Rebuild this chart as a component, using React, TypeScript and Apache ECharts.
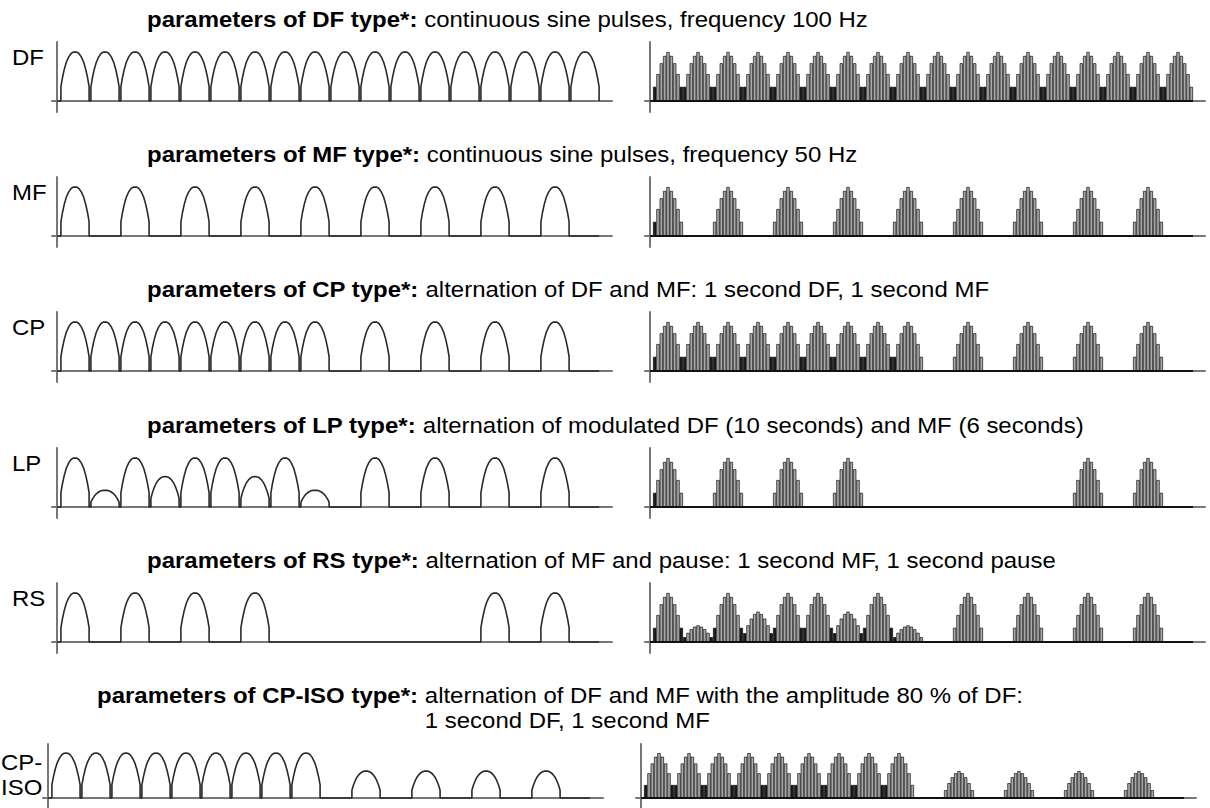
import React, { useEffect, useRef } from 'react';
import * as echarts from 'echarts';

// ---------- data ----------
const ROW_LABELS = ['DF', 'MF', 'CP', 'LP', 'RS', 'CP-\nISO'];
const TITLE_BOLD = [
  'parameters of DF type*:',
  'parameters of MF type*:',
  'parameters of CP type*:',
  'parameters of LP type*:',
  'parameters of RS type*:',
  'parameters of CP-ISO type*:',
];
const TITLE_TEXT = [
  'continuous sine pulses, frequency 100 Hz',
  'continuous sine pulses, frequency 50 Hz',
  'alternation of DF and MF: 1 second DF, 1 second MF',
  'alternation of modulated DF (10 seconds) and MF (6 seconds)',
  'alternation of MF and pause: 1 second MF, 1 second pause',
  'alternation of DF and MF with the amplitude 80 % of DF:',
];
const TITLE_TEXT_2 = ['', '', '', '', '', '1 second DF, 1 second MF'];

// amplitude of each half-wave slot (18 slots per panel), 0 = no pulse
const DF_PULSES = [1, 1, 1, 1, 1, 1, 1, 1, 1, 1, 1, 1, 1, 1, 1, 1, 1, 1];
const MF_PULSES = [1, 0, 1, 0, 1, 0, 1, 0, 1, 0, 1, 0, 1, 0, 1, 0, 1, 0];
const CP_PULSES = [1, 1, 1, 1, 1, 1, 1, 1, 1, 0, 1, 0, 1, 0, 1, 0, 1, 0];
const LP_PULSES = [1, 0.34, 1, 0.62, 1, 1, 0.62, 1, 0.34, 0, 1, 0, 1, 0, 1, 0, 1, 0];
const RS_PULSES = [1, 0, 1, 0, 1, 0, 1, 0, 0, 0, 0, 0, 0, 0, 1, 0, 1, 0];
const CPISO_PULSES = [1, 1, 1, 1, 1, 1, 1, 1, 1, 0, 0.6, 0, 0.6, 0, 0.6, 0, 0.6, 0];

const LEFT_PULSES = [DF_PULSES, MF_PULSES, CP_PULSES, LP_PULSES, RS_PULSES, CPISO_PULSES];
const RIGHT_PULSES = [DF_PULSES, MF_PULSES, CP_PULSES, RS_PULSES, LP_PULSES, CPISO_PULSES];

// one pulse outline (position within slot, relative height)
const ARCH_T = [0.03, 0.03, 0.08, 0.14, 0.21, 0.29, 0.37, 0.44, 0.5, 0.56, 0.63, 0.71, 0.79, 0.86, 0.92, 0.97, 0.97];
const ARCH_V = [0, 0.29, 0.47, 0.64, 0.79, 0.9, 0.97, 0.997, 1, 0.997, 0.97, 0.9, 0.79, 0.64, 0.47, 0.29, 0];
// one pulse as hatched bars (relative heights)
const BAR_V = [0.29, 0.55, 0.77, 0.92, 1, 0.92, 0.77, 0.55, 0.29];

// ---------- layout ----------
const FONT = '"Liberation Sans", Arial, sans-serif';
const FONT_SIZE = 22;
const FONT_SX = 1.09;
const BASELINES = [101, 236, 371, 507, 642, 803];
const ROW_DX = [0, 0, 0, 0, 0, -9];
const LEFT_GRID_X = 52;
const RIGHT_GRID_X = 645;
const GRID_W = 560;
const ABOVE = 59;
const BELOW = 11;
const SLOT_PX = 30;
const PEAK_PX = 49;
const X_MIN = -5 / SLOT_PX;
const X_MAX = X_MIN + GRID_W / SLOT_PX;
const Y_MIN = -BELOW / PEAK_PX;
const Y_MAX = ABOVE / PEAK_PX;
const START = 0.1;
const TITLE_X = 147;
const TITLE_X_LAST = 97;

function linePoints(pulses: number[]) {
  const pts: number[][] = [[0, 0]];
  pulses.forEach((a, s) => {
    if (a > 0) ARCH_T.forEach((t, k) => pts.push([START + s + t, ARCH_V[k] * a]));
    else pts.push([START + s + 0.03, 0], [START + s + 0.97, 0]);
  });
  return pts;
}

function barPoints(pulses: number[]) {
  const out: any[] = [];
  const n = BAR_V.length;
  pulses.forEach((a, s) => {
    if (a <= 0) return;
    const prevOn = s > 0 && pulses[s - 1] > 0;
    const nextOn = s < pulses.length - 1 && pulses[s + 1] > 0;
    BAR_V.forEach((v, i) => {
      const dark = (i === 0 && prevOn) || (i === n - 1 && nextOn) || (i === 0 && s === 0);
      out.push({
        value: [START + s + (i + 0.5) / n, v * a],
        itemStyle: dark ? { color: '#1c1c1c' } : undefined,
      });
    });
  });
  return out;
}

function measure(text: string, weight: string) {
  const c = document.createElement('canvas').getContext('2d');
  if (!c) return text.length * 11;
  c.font = `${weight} ${FONT_SIZE}px ${FONT}`;
  return c.measureText(text).width * FONT_SX;
}

export default function App() {
  const ref = useRef<HTMLDivElement>(null);
  useEffect(() => {
    if (!ref.current) return;
    const chart = echarts.init(ref.current, undefined, { renderer: 'svg' });
    const grids: any[] = [];
    const xAxes: any[] = [];
    const yAxes: any[] = [];
    const series: any[] = [];
    const graphics: any[] = [];
    const axisLine = { show: true, onZero: true, lineStyle: { color: '#777', width: 2 } };

    BASELINES.forEach((base, r) => {
      [LEFT_GRID_X, RIGHT_GRID_X].forEach((gx, side) => {
        const idx = grids.length;
        grids.push({ left: gx + ROW_DX[r], top: base - ABOVE, width: GRID_W, height: ABOVE + BELOW });
        xAxes.push({
          type: 'value', gridIndex: idx, min: X_MIN, max: X_MAX,
          axisLine, axisTick: { show: false }, axisLabel: { show: false }, splitLine: { show: false },
        });
        yAxes.push({
          type: 'value', gridIndex: idx, min: Y_MIN, max: Y_MAX,
          axisLine, axisTick: { show: false }, axisLabel: { show: false }, splitLine: { show: false },
        });
        if (side === 0) {
          series.push({
            type: 'line', xAxisIndex: idx, yAxisIndex: idx, data: linePoints(LEFT_PULSES[r]),
            symbol: 'none', silent: true, lineStyle: { color: '#2a2a2a', width: 1.6 },
          });
        } else {
          series.push({
            type: 'line', xAxisIndex: idx, yAxisIndex: idx, data: [[0, 0], [START + 18, 0]],
            symbol: 'none', silent: true, lineStyle: { color: '#111', width: 2 },
          });
          series.push({
            type: 'bar', xAxisIndex: idx, yAxisIndex: idx, data: barPoints(RIGHT_PULSES[r]),
            barWidth: SLOT_PX / BAR_V.length, silent: true,
            itemStyle: { color: '#a9a9a9', borderColor: '#111', borderWidth: 0.7 },
          });
        }
      });

      // row label
      graphics.push({
        type: 'text', x: r === 5 ? 1 : 12, y: r === 5 ? base - 28 : base - 44,
        scaleX: FONT_SX,
        style: {
          text: ROW_LABELS[r], fontSize: FONT_SIZE, fontFamily: FONT, fill: '#000',
          verticalAlign: 'middle', lineHeight: 25,
        },
      });
      // title
      const tx = r === 5 ? TITLE_X_LAST : TITLE_X;
      const ty = r === 5 ? base - 108 : base - 82;
      graphics.push({
        type: 'text', x: tx, y: ty, scaleX: FONT_SX,
        style: {
          text: `{b|${TITLE_BOLD[r]}} ${TITLE_TEXT[r]}`,
          fontSize: FONT_SIZE, fontFamily: FONT, fill: '#000', verticalAlign: 'middle',
          rich: { b: { fontWeight: 'bold', fontSize: FONT_SIZE, fontFamily: FONT, fill: '#000' } },
        },
      });
      if (TITLE_TEXT_2[r]) {
        const off = measure(TITLE_BOLD[r], 'bold') + measure(' ', 'normal');
        graphics.push({
          type: 'text', x: tx + off, y: ty + 25, scaleX: FONT_SX,
          style: { text: TITLE_TEXT_2[r], fontSize: FONT_SIZE, fontFamily: FONT, fill: '#000', verticalAlign: 'middle' },
        });
      }
    });

    chart.setOption({
      animation: false,
      backgroundColor: '#fff',
      grid: grids,
      xAxis: xAxes,
      yAxis: yAxes,
      series,
      graphic: graphics,
    });
    return () => chart.dispose();
  }, []);
  return <div ref={ref} style={{ position: 'fixed', left: 0, top: 0, width: 1210, height: 808, background: '#fff' }} />;
}
